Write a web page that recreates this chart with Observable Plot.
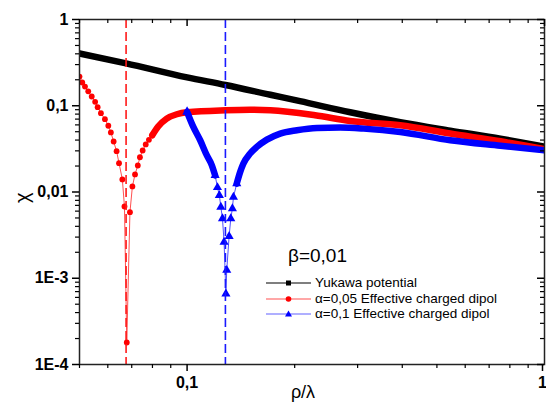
<!DOCTYPE html>
<html><head><meta charset="utf-8">
<script src="https://cdn.jsdelivr.net/npm/d3@7"></script>
<script src="https://cdn.jsdelivr.net/npm/@observablehq/plot@0.6"></script>
<style>
body{margin:0;background:#fff;font-family:"Liberation Sans",Arial,sans-serif;}
#wrap{position:relative;width:546px;height:410px;overflow:hidden;}
#wrap svg{display:block;}
g[aria-label="y-axis tick label"] text, g[aria-label="x-axis tick label"] text{font-weight:bold;}
.lg{position:absolute;white-space:nowrap;color:#000;}
</style></head><body><div id="wrap"></div>
<script>
// ---- data ----
const yukawaX = [0.05, 0.0675, 0.1, 0.128, 0.171, 0.207, 0.286, 0.395, 0.545, 0.753, 1.0];
const yukawaY = [0.404, 0.310, 0.213, 0.174, 0.134, 0.113, 0.0840, 0.0645, 0.0515, 0.0415, 0.0336];

const redX = [0.0500, 0.0509, 0.0518, 0.0529, 0.0541, 0.0553, 0.0562, 0.0574, 0.0589, 0.0602, 0.0612, 0.0623, 0.0635, 0.0645, 0.0659, 0.0668, 0.0678, 0.0692, 0.0703, 0.0715, 0.0728, 0.0738, 0.0751, 0.0766, 0.0782, 0.0799,
  0.083, 0.0877, 0.0936, 0.1, 0.128, 0.150, 0.171, 0.228, 0.286, 0.395, 0.545, 0.753, 1.0];
const redY = [0.218, 0.186, 0.167, 0.147, 0.128, 0.111, 0.0962, 0.082, 0.0699, 0.0586, 0.0490, 0.0385, 0.0297, 0.0216, 0.0140, 0.00679, 0.00018, 0.00583, 0.0116, 0.0160, 0.0203, 0.0253, 0.0303, 0.0356, 0.0403, 0.0455,
  0.0575, 0.0710, 0.0797, 0.0840, 0.0887, 0.0899, 0.0887, 0.0776, 0.0667, 0.0594, 0.0476, 0.0387, 0.0313];

const blueX = [0.1, 0.1041, 0.1088, 0.1135, 0.1173, 0.1198, 0.1216, 0.1231, 0.1243, 0.1256, 0.1269, 0.1284, 0.1291, 0.1311, 0.1325, 0.1339, 0.1348, 0.1377, 0.1408, 0.1437, 0.1501, 0.1567, 0.1672, 0.1822, 0.2029, 0.2308, 0.2683, 0.3118, 0.395, 0.545, 0.753, 1.0];
const blueY = [0.0848, 0.0568, 0.0398, 0.0267, 0.0204, 0.0156, 0.0113, 0.00916, 0.00670, 0.00491, 0.00263, 0.00066, 0.00124, 0.00306, 0.00491, 0.00642, 0.00875, 0.0125, 0.0171, 0.0213, 0.0279, 0.0333, 0.0405, 0.0476, 0.0520, 0.0552, 0.0558, 0.0543, 0.0497, 0.0398, 0.0344, 0.0305];

const dipX = [0.0675, 0.128];
const dipColor = ["#ff1a1a", "#1a1aff"];

const yTicks = [1, 0.1, 0.01, 0.001, 0.0001];
const yTickLabels = ["1", "0,1", "0,01", "1E-3", "1E-4"];
const xTicks = [0.1, 1];
const xTickLabels = ["0,1", "1"];

const legendTitle = "β=0,01";
const seriesNames = ["Yukawa potential", "α=0,05 Effective charged dipol", "α=0,1 Effective charged dipol"];
const xLabel = "ρ/λ";
const yLabel = "χ";

// ---- build ----
const toRows = (xs, ys) => xs.map((x, i) => ({x, y: ys[i]}));
const yuk = toRows(yukawaX, yukawaY);
const red = toRows(redX, redY);
const blue = toRows(blueX, blueY);

// where the markers overlap into a solid band
const redDenseFrom = 0.0799;
const redDense = red.filter(d => d.x >= redDenseFrom);
const redSparse = red.filter(d => d.x <= redDenseFrom);
const blueDense = blue.filter(d => d.x <= 0.1198 || d.x >= 0.1377);
const blueSp = blue.filter(d => d.x >= 0.1198 && d.x <= 0.1377);

const minorX = [], minorY = [];
for (let e = -2; e <= -1; e++) for (let k = 2; k <= 9; k++) { const v = k * 10 ** e; if (v >= 0.05 && v <= 1) minorX.push(+v.toPrecision(3)); }
for (let e = -4; e <= -1; e++) for (let k = 2; k <= 9; k++) minorY.push(+(k * 10 ** e).toPrecision(3));

const yFmt = d => yTickLabels[yTicks.findIndex(t => Math.abs(t - d) / t < 1e-6)] ?? "";
const xFmt = d => xTickLabels[xTicks.findIndex(t => Math.abs(t - d) / t < 1e-6)] ?? "";
const none = () => "";
const font = "Liberation Sans, Arial, sans-serif";

const chart = Plot.plot({
  width: 546, height: 410,
  marginLeft: 79, marginRight: 2, marginTop: 19, marginBottom: 46,
  x: {type: "log", domain: [0.05, 1]},
  y: {type: "log", domain: [1e-4, 1]},
  style: {fontFamily: font, background: "white", color: "#000"},
  marks: [
    Plot.line(yuk, {x: "x", y: "y", stroke: "#000", strokeWidth: 6.5, curve: "monotone-x", clip: true}),
    Plot.line(red, {x: "x", y: "y", stroke: "#ff5050", strokeWidth: 1, clip: true}),
    Plot.line(redDense, {x: "x", y: "y", stroke: "#ff0000", strokeWidth: 6.5, strokeLinecap: "round", curve: "monotone-x", clip: true}),
    Plot.dot(redSparse, {x: "x", y: "y", r: 2.9, fill: "#ff0000", symbol: "circle", clip: true}),
    Plot.line(blue, {x: "x", y: "y", stroke: "#5050ff", strokeWidth: 1, clip: true}),
    Plot.line(blueDense, {x: "x", y: "y", z: d => d.x < 0.125 ? "a" : "b", stroke: "#0000ff", strokeWidth: 6.5, strokeLinecap: "round", curve: "monotone-x", clip: true}),
    Plot.dot(blueSp, {x: "x", y: "y", r: 3.4, fill: "#0000ff", symbol: "triangle", clip: true}),
    Plot.dot(blue.slice(0, 1), {x: "x", y: "y", r: 3.6, fill: "#0000ff", symbol: "triangle"}),
    Plot.ruleX(dipX, {x: d => d, stroke: (d, i) => dipColor[i], strokeWidth: 1.6, strokeDasharray: "9,4"}),
    Plot.frame({stroke: "#222", strokeWidth: 1.5}),
    // left / bottom (outward)
    Plot.axisY({ticks: yTicks, tickFormat: yFmt, tickSize: 7, tickPadding: 4, strokeWidth: 1.5, fontSize: 16, fontWeight: "bold", label: null}),
    Plot.axisY({ticks: minorY, tickFormat: none, tickSize: 4, strokeWidth: 1.2, label: null}),
    Plot.axisX({ticks: xTicks.slice(0, 1), tickFormat: xFmt, tickSize: 7, tickPadding: 5, strokeWidth: 1.5, fontSize: 16, fontWeight: "bold", label: null}),
    Plot.axisX({ticks: xTicks.slice(1), tickFormat: xFmt, tickSize: 7, tickPadding: 5, strokeWidth: 1.5, fontSize: 16, fontWeight: "bold", dx: -2, label: null}),
    Plot.axisX({ticks: minorX, tickFormat: none, tickSize: 4, strokeWidth: 1.2, label: null}),
    // top / right (inward)
    Plot.axisX({anchor: "bottom", frameAnchor: "top", ticks: xTicks, tickFormat: none, tickSize: 7, strokeWidth: 1.5, label: null}),
    Plot.axisX({anchor: "bottom", frameAnchor: "top", ticks: minorX, tickFormat: none, tickSize: 4, strokeWidth: 1.2, label: null}),
    Plot.axisY({anchor: "left", frameAnchor: "right", ticks: yTicks, tickFormat: none, tickSize: 7, strokeWidth: 1.5, label: null}),
    Plot.axisY({anchor: "left", frameAnchor: "right", ticks: minorY, tickFormat: none, tickSize: 4, strokeWidth: 1.2, label: null}),
    // axis titles
    Plot.text([xLabel], {text: d => d, frameAnchor: "bottom", dx: -9, dy: 33, fontSize: 18}),
    Plot.text([yLabel], {text: d => d, frameAnchor: "left", dx: -57, dy: 11, rotate: -90, fontSize: 20})
  ]
});
const wrap = document.getElementById("wrap");
wrap.appendChild(chart);

// legend (inside the plot area)
const add = (html, css) => { const d = document.createElement("div"); d.className = "lg"; d.innerHTML = html; Object.assign(d.style, css); wrap.appendChild(d); return d; };
add(legendTitle, {left: "288px", top: "245px", fontSize: "19px", lineHeight: "22px"});
const rows = [
  {line: "#000", fill: "#000", sym: "square"},
  {line: "#ff5050", fill: "#ff0000", sym: "circle"},
  {line: "#6060ff", fill: "#0000ff", sym: "triangle"}
];
const rowY = [283, 298.5, 314];
rows.forEach((r, i) => {
  let m;
  if (r.sym === "square") m = `<rect x="20" y="3.5" width="5" height="5" fill="${r.fill}"/>`;
  else if (r.sym === "circle") m = `<circle cx="22.5" cy="6" r="2.8" fill="${r.fill}"/>`;
  else m = `<path d="M22.5,2.6 L26,8.6 L19,8.6Z" fill="${r.fill}"/>`;
  add(`<svg width="46" height="12"><line x1="0" y1="6" x2="45" y2="6" stroke="${r.line}" stroke-width="1.2"/>${m}</svg>`, {left: "266px", top: (rowY[i] - 6) + "px", lineHeight: "0"});
  add(seriesNames[i], {left: "315px", top: (rowY[i] - 7) + "px", fontSize: "13.5px", lineHeight: "14px"});
});
</script></body></html>
